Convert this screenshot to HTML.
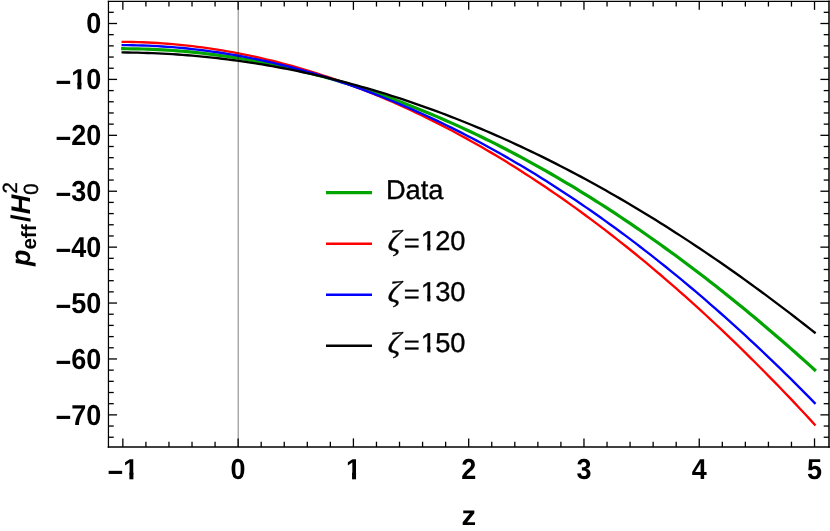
<!DOCTYPE html>
<html><head><meta charset="utf-8"><title>p_eff plot</title>
<style>html,body{margin:0;padding:0;background:#fff;}svg{display:block;}text{font-family:"Liberation Sans",sans-serif;text-rendering:geometricPrecision;}</style>
</head><body>
<svg width="830" height="531" viewBox="0 0 830 531" style="will-change:transform">
<rect x="0" y="0" width="830" height="531" fill="#ffffff"/>
<g fill="none" stroke-linecap="square" stroke-linejoin="round">
<path d="M122.70,48.71 L127.68,48.74 L132.66,48.80 L137.64,48.89 L142.61,49.02 L147.59,49.18 L152.57,49.38 L157.55,49.61 L162.53,49.87 L167.51,50.17 L172.48,50.51 L177.46,50.87 L182.44,51.27 L187.42,51.71 L192.40,52.18 L197.38,52.68 L202.35,53.22 L207.33,53.80 L212.31,54.40 L217.29,55.04 L222.27,55.72 L227.25,56.42 L232.23,57.16 L237.20,57.94 L242.18,58.75 L247.16,59.59 L252.14,60.47 L257.12,61.38 L262.10,62.32 L267.07,63.30 L272.05,64.31 L277.03,65.36 L282.01,66.44 L286.99,67.55 L291.97,68.70 L296.94,69.88 L301.92,71.09 L306.90,72.33 L311.88,73.61 L316.86,74.93 L321.84,76.27 L326.82,77.65 L331.79,79.07 L336.77,80.51 L341.75,81.99 L346.73,83.51 L351.71,85.05 L356.69,86.63 L361.66,88.24 L366.64,89.89 L371.62,91.57 L376.60,93.28 L381.58,95.02 L386.56,96.80 L391.53,98.61 L396.51,100.45 L401.49,102.33 L406.47,104.24 L411.45,106.18 L416.43,108.15 L421.41,110.16 L426.38,112.20 L431.36,114.27 L436.34,116.38 L441.32,118.52 L446.30,120.69 L451.28,122.89 L456.25,125.13 L461.23,127.40 L466.21,129.70 L471.19,132.03 L476.17,134.40 L481.15,136.80 L486.12,139.23 L491.10,141.69 L496.08,144.19 L501.06,146.71 L506.04,149.27 L511.02,151.87 L515.99,154.49 L520.97,157.15 L525.95,159.84 L530.93,162.56 L535.91,165.31 L540.89,168.10 L545.87,170.92 L550.84,173.76 L555.82,176.65 L560.80,179.56 L565.78,182.51 L570.76,185.48 L575.74,188.49 L580.71,191.53 L585.69,194.61 L590.67,197.71 L595.65,200.85 L600.63,204.02 L605.61,207.22 L610.58,210.45 L615.56,213.71 L620.54,217.01 L625.52,220.33 L630.50,223.69 L635.48,227.08 L640.46,230.50 L645.43,233.96 L650.41,237.44 L655.39,240.95 L660.37,244.50 L665.35,248.08 L670.33,251.69 L675.30,255.33 L680.28,259.00 L685.26,262.71 L690.24,266.44 L695.22,270.21 L700.20,274.00 L705.17,277.83 L710.15,281.69 L715.13,285.58 L720.11,289.50 L725.09,293.46 L730.07,297.44 L735.05,301.45 L740.02,305.50 L745.00,309.58 L749.98,313.68 L754.96,317.82 L759.94,321.99 L764.92,326.19 L769.89,330.42 L774.87,334.68 L779.85,338.97 L784.83,343.30 L789.81,347.65 L794.79,352.03 L799.76,356.45 L804.74,360.89 L809.72,365.37 L814.70,369.87" stroke="#00a500" stroke-width="3.2"/>
<path d="M122.70,41.84 L127.68,41.89 L132.66,41.98 L137.64,42.11 L142.61,42.28 L147.59,42.49 L152.57,42.74 L157.55,43.03 L162.53,43.36 L167.51,43.73 L172.48,44.15 L177.46,44.60 L182.44,45.09 L187.42,45.62 L192.40,46.19 L197.38,46.80 L202.35,47.46 L207.33,48.15 L212.31,48.88 L217.29,49.65 L222.27,50.46 L227.25,51.31 L232.23,52.20 L237.20,53.14 L242.18,54.11 L247.16,55.12 L252.14,56.16 L257.12,57.25 L262.10,58.38 L267.07,59.55 L272.05,60.76 L277.03,62.01 L282.01,63.29 L286.99,64.62 L291.97,65.98 L296.94,67.39 L301.92,68.83 L306.90,70.32 L311.88,71.84 L316.86,73.40 L321.84,75.00 L326.82,76.64 L331.79,78.32 L336.77,80.04 L341.75,81.80 L346.73,83.60 L351.71,85.43 L356.69,87.31 L361.66,89.22 L366.64,91.18 L371.62,93.17 L376.60,95.20 L381.58,97.27 L386.56,99.38 L391.53,101.53 L396.51,103.71 L401.49,105.94 L406.47,108.20 L411.45,110.51 L416.43,112.85 L421.41,115.23 L426.38,117.65 L431.36,120.11 L436.34,122.60 L441.32,125.14 L446.30,127.72 L451.28,130.33 L456.25,132.98 L461.23,135.67 L466.21,138.40 L471.19,141.17 L476.17,143.97 L481.15,146.82 L486.12,149.70 L491.10,152.62 L496.08,155.58 L501.06,158.58 L506.04,161.62 L511.02,164.69 L515.99,167.81 L520.97,170.96 L525.95,174.15 L530.93,177.38 L535.91,180.65 L540.89,183.95 L545.87,187.30 L550.84,190.68 L555.82,194.10 L560.80,197.56 L565.78,201.06 L570.76,204.59 L575.74,208.17 L580.71,211.78 L585.69,215.43 L590.67,219.12 L595.65,222.84 L600.63,226.61 L605.61,230.41 L610.58,234.25 L615.56,238.13 L620.54,242.05 L625.52,246.01 L630.50,250.00 L635.48,254.03 L640.46,258.10 L645.43,262.21 L650.41,266.36 L655.39,270.55 L660.37,274.77 L665.35,279.03 L670.33,283.33 L675.30,287.67 L680.28,292.04 L685.26,296.46 L690.24,300.91 L695.22,305.40 L700.20,309.92 L705.17,314.49 L710.15,319.09 L715.13,323.74 L720.11,328.42 L725.09,333.13 L730.07,337.89 L735.05,342.68 L740.02,347.52 L745.00,352.39 L749.98,357.30 L754.96,362.24 L759.94,367.23 L764.92,372.25 L769.89,377.31 L774.87,382.41 L779.85,387.55 L784.83,392.72 L789.81,397.93 L794.79,403.18 L799.76,408.47 L804.74,413.80 L809.72,419.16 L814.70,424.57" stroke="#ff0000" stroke-width="2.35"/>
<path d="M122.70,45.15 L127.68,45.18 L132.66,45.25 L137.64,45.35 L142.61,45.50 L147.59,45.68 L152.57,45.90 L157.55,46.16 L162.53,46.46 L167.51,46.80 L172.48,47.17 L177.46,47.59 L182.44,48.04 L187.42,48.53 L192.40,49.05 L197.38,49.62 L202.35,50.22 L207.33,50.86 L212.31,51.54 L217.29,52.26 L222.27,53.01 L227.25,53.81 L232.23,54.64 L237.20,55.50 L242.18,56.41 L247.16,57.35 L252.14,58.33 L257.12,59.35 L262.10,60.40 L267.07,61.49 L272.05,62.62 L277.03,63.78 L282.01,64.99 L286.99,66.23 L291.97,67.50 L296.94,68.82 L301.92,70.17 L306.90,71.55 L311.88,72.98 L316.86,74.44 L321.84,75.94 L326.82,77.47 L331.79,79.04 L336.77,80.65 L341.75,82.29 L346.73,83.97 L351.71,85.69 L356.69,87.44 L361.66,89.23 L366.64,91.06 L371.62,92.92 L376.60,94.82 L381.58,96.75 L386.56,98.72 L391.53,100.73 L396.51,102.77 L401.49,104.85 L406.47,106.97 L411.45,109.12 L416.43,111.31 L421.41,113.54 L426.38,115.80 L431.36,118.09 L436.34,120.43 L441.32,122.79 L446.30,125.20 L451.28,127.64 L456.25,130.12 L461.23,132.63 L466.21,135.18 L471.19,137.76 L476.17,140.38 L481.15,143.04 L486.12,145.73 L491.10,148.46 L496.08,151.22 L501.06,154.02 L506.04,156.86 L511.02,159.73 L515.99,162.64 L520.97,165.58 L525.95,168.56 L530.93,171.57 L535.91,174.62 L540.89,177.71 L545.87,180.83 L550.84,183.99 L555.82,187.18 L560.80,190.41 L565.78,193.68 L570.76,196.98 L575.74,200.32 L580.71,203.69 L585.69,207.10 L590.67,210.55 L595.65,214.03 L600.63,217.54 L605.61,221.10 L610.58,224.68 L615.56,228.31 L620.54,231.97 L625.52,235.66 L630.50,239.40 L635.48,243.16 L640.46,246.97 L645.43,250.81 L650.41,254.69 L655.39,258.60 L660.37,262.55 L665.35,266.53 L670.33,270.55 L675.30,274.61 L680.28,278.70 L685.26,282.83 L690.24,287.00 L695.22,291.20 L700.20,295.43 L705.17,299.71 L710.15,304.02 L715.13,308.37 L720.11,312.75 L725.09,317.17 L730.07,321.63 L735.05,326.12 L740.02,330.65 L745.00,335.21 L749.98,339.81 L754.96,344.45 L759.94,349.13 L764.92,353.84 L769.89,358.59 L774.87,363.38 L779.85,368.20 L784.83,373.06 L789.81,377.95 L794.79,382.89 L799.76,387.86 L804.74,392.87 L809.72,397.91 L814.70,402.99" stroke="#0000ff" stroke-width="2.35"/>
<path d="M122.70,52.46 L127.68,52.51 L132.66,52.58 L137.64,52.68 L142.61,52.80 L147.59,52.96 L152.57,53.14 L157.55,53.36 L162.53,53.60 L167.51,53.87 L172.48,54.17 L177.46,54.49 L182.44,54.85 L187.42,55.23 L192.40,55.64 L197.38,56.08 L202.35,56.55 L207.33,57.05 L212.31,57.58 L217.29,58.13 L222.27,58.72 L227.25,59.33 L232.23,59.97 L237.20,60.64 L242.18,61.34 L247.16,62.07 L252.14,62.83 L257.12,63.61 L262.10,64.43 L267.07,65.27 L272.05,66.14 L277.03,67.05 L282.01,67.98 L286.99,68.94 L291.97,69.92 L296.94,70.94 L301.92,71.99 L306.90,73.06 L311.88,74.16 L316.86,75.30 L321.84,76.46 L326.82,77.65 L331.79,78.87 L336.77,80.12 L341.75,81.39 L346.73,82.70 L351.71,84.04 L356.69,85.40 L361.66,86.79 L366.64,88.22 L371.62,89.67 L376.60,91.15 L381.58,92.66 L386.56,94.19 L391.53,95.76 L396.51,97.36 L401.49,98.98 L406.47,100.63 L411.45,102.32 L416.43,104.03 L421.41,105.77 L426.38,107.54 L431.36,109.34 L436.34,111.16 L441.32,113.02 L446.30,114.90 L451.28,116.82 L456.25,118.76 L461.23,120.73 L466.21,122.73 L471.19,124.76 L476.17,126.82 L481.15,128.91 L486.12,131.02 L491.10,133.16 L496.08,135.34 L501.06,137.54 L506.04,139.77 L511.02,142.03 L515.99,144.31 L520.97,146.63 L525.95,148.97 L530.93,151.34 L535.91,153.75 L540.89,156.17 L545.87,158.63 L550.84,161.12 L555.82,163.63 L560.80,166.18 L565.78,168.75 L570.76,171.35 L575.74,173.98 L580.71,176.63 L585.69,179.32 L590.67,182.03 L595.65,184.77 L600.63,187.54 L605.61,190.34 L610.58,193.16 L615.56,196.01 L620.54,198.89 L625.52,201.80 L630.50,204.74 L635.48,207.70 L640.46,210.70 L645.43,213.72 L650.41,216.76 L655.39,219.84 L660.37,222.94 L665.35,226.07 L670.33,229.23 L675.30,232.42 L680.28,235.63 L685.26,238.87 L690.24,242.14 L695.22,245.43 L700.20,248.75 L705.17,252.10 L710.15,255.48 L715.13,258.88 L720.11,262.31 L725.09,265.77 L730.07,269.26 L735.05,272.77 L740.02,276.31 L745.00,279.87 L749.98,283.46 L754.96,287.08 L759.94,290.73 L764.92,294.40 L769.89,298.10 L774.87,301.82 L779.85,305.57 L784.83,309.35 L789.81,313.15 L794.79,316.98 L799.76,320.84 L804.74,324.72 L809.72,328.63 L814.70,332.56" stroke="#000000" stroke-width="2.35"/>
</g>
<line x1="238.2" y1="1.25" x2="238.2" y2="447.0" stroke="#000" stroke-opacity="0.5" stroke-width="1"/>
<g stroke="#000" stroke-width="1.3">
<line x1="122.85" y1="447.0" x2="122.85" y2="438.40"/>
<line x1="122.85" y1="1.25" x2="122.85" y2="9.85"/>
<line x1="145.91" y1="447.0" x2="145.91" y2="441.70"/>
<line x1="145.91" y1="1.25" x2="145.91" y2="6.55"/>
<line x1="168.96" y1="447.0" x2="168.96" y2="441.70"/>
<line x1="168.96" y1="1.25" x2="168.96" y2="6.55"/>
<line x1="192.02" y1="447.0" x2="192.02" y2="441.70"/>
<line x1="192.02" y1="1.25" x2="192.02" y2="6.55"/>
<line x1="215.07" y1="447.0" x2="215.07" y2="441.70"/>
<line x1="215.07" y1="1.25" x2="215.07" y2="6.55"/>
<line x1="238.13" y1="447.0" x2="238.13" y2="438.40"/>
<line x1="238.13" y1="1.25" x2="238.13" y2="9.85"/>
<line x1="261.19" y1="447.0" x2="261.19" y2="441.70"/>
<line x1="261.19" y1="1.25" x2="261.19" y2="6.55"/>
<line x1="284.24" y1="447.0" x2="284.24" y2="441.70"/>
<line x1="284.24" y1="1.25" x2="284.24" y2="6.55"/>
<line x1="307.30" y1="447.0" x2="307.30" y2="441.70"/>
<line x1="307.30" y1="1.25" x2="307.30" y2="6.55"/>
<line x1="330.35" y1="447.0" x2="330.35" y2="441.70"/>
<line x1="330.35" y1="1.25" x2="330.35" y2="6.55"/>
<line x1="353.41" y1="447.0" x2="353.41" y2="438.40"/>
<line x1="353.41" y1="1.25" x2="353.41" y2="9.85"/>
<line x1="376.47" y1="447.0" x2="376.47" y2="441.70"/>
<line x1="376.47" y1="1.25" x2="376.47" y2="6.55"/>
<line x1="399.52" y1="447.0" x2="399.52" y2="441.70"/>
<line x1="399.52" y1="1.25" x2="399.52" y2="6.55"/>
<line x1="422.58" y1="447.0" x2="422.58" y2="441.70"/>
<line x1="422.58" y1="1.25" x2="422.58" y2="6.55"/>
<line x1="445.63" y1="447.0" x2="445.63" y2="441.70"/>
<line x1="445.63" y1="1.25" x2="445.63" y2="6.55"/>
<line x1="468.69" y1="447.0" x2="468.69" y2="438.40"/>
<line x1="468.69" y1="1.25" x2="468.69" y2="9.85"/>
<line x1="491.75" y1="447.0" x2="491.75" y2="441.70"/>
<line x1="491.75" y1="1.25" x2="491.75" y2="6.55"/>
<line x1="514.80" y1="447.0" x2="514.80" y2="441.70"/>
<line x1="514.80" y1="1.25" x2="514.80" y2="6.55"/>
<line x1="537.86" y1="447.0" x2="537.86" y2="441.70"/>
<line x1="537.86" y1="1.25" x2="537.86" y2="6.55"/>
<line x1="560.91" y1="447.0" x2="560.91" y2="441.70"/>
<line x1="560.91" y1="1.25" x2="560.91" y2="6.55"/>
<line x1="583.97" y1="447.0" x2="583.97" y2="438.40"/>
<line x1="583.97" y1="1.25" x2="583.97" y2="9.85"/>
<line x1="607.03" y1="447.0" x2="607.03" y2="441.70"/>
<line x1="607.03" y1="1.25" x2="607.03" y2="6.55"/>
<line x1="630.08" y1="447.0" x2="630.08" y2="441.70"/>
<line x1="630.08" y1="1.25" x2="630.08" y2="6.55"/>
<line x1="653.14" y1="447.0" x2="653.14" y2="441.70"/>
<line x1="653.14" y1="1.25" x2="653.14" y2="6.55"/>
<line x1="676.19" y1="447.0" x2="676.19" y2="441.70"/>
<line x1="676.19" y1="1.25" x2="676.19" y2="6.55"/>
<line x1="699.25" y1="447.0" x2="699.25" y2="438.40"/>
<line x1="699.25" y1="1.25" x2="699.25" y2="9.85"/>
<line x1="722.31" y1="447.0" x2="722.31" y2="441.70"/>
<line x1="722.31" y1="1.25" x2="722.31" y2="6.55"/>
<line x1="745.36" y1="447.0" x2="745.36" y2="441.70"/>
<line x1="745.36" y1="1.25" x2="745.36" y2="6.55"/>
<line x1="768.42" y1="447.0" x2="768.42" y2="441.70"/>
<line x1="768.42" y1="1.25" x2="768.42" y2="6.55"/>
<line x1="791.47" y1="447.0" x2="791.47" y2="441.70"/>
<line x1="791.47" y1="1.25" x2="791.47" y2="6.55"/>
<line x1="814.53" y1="447.0" x2="814.53" y2="438.40"/>
<line x1="814.53" y1="1.25" x2="814.53" y2="9.85"/>
<line x1="108.45" y1="437.23" x2="113.75" y2="437.23"/>
<line x1="829.0" y1="437.23" x2="823.70" y2="437.23"/>
<line x1="108.45" y1="426.05" x2="113.75" y2="426.05"/>
<line x1="829.0" y1="426.05" x2="823.70" y2="426.05"/>
<line x1="108.45" y1="414.87" x2="117.05" y2="414.87"/>
<line x1="829.0" y1="414.87" x2="820.40" y2="414.87"/>
<line x1="108.45" y1="403.69" x2="113.75" y2="403.69"/>
<line x1="829.0" y1="403.69" x2="823.70" y2="403.69"/>
<line x1="108.45" y1="392.51" x2="113.75" y2="392.51"/>
<line x1="829.0" y1="392.51" x2="823.70" y2="392.51"/>
<line x1="108.45" y1="381.32" x2="113.75" y2="381.32"/>
<line x1="829.0" y1="381.32" x2="823.70" y2="381.32"/>
<line x1="108.45" y1="370.14" x2="113.75" y2="370.14"/>
<line x1="829.0" y1="370.14" x2="823.70" y2="370.14"/>
<line x1="108.45" y1="358.96" x2="117.05" y2="358.96"/>
<line x1="829.0" y1="358.96" x2="820.40" y2="358.96"/>
<line x1="108.45" y1="347.78" x2="113.75" y2="347.78"/>
<line x1="829.0" y1="347.78" x2="823.70" y2="347.78"/>
<line x1="108.45" y1="336.60" x2="113.75" y2="336.60"/>
<line x1="829.0" y1="336.60" x2="823.70" y2="336.60"/>
<line x1="108.45" y1="325.41" x2="113.75" y2="325.41"/>
<line x1="829.0" y1="325.41" x2="823.70" y2="325.41"/>
<line x1="108.45" y1="314.23" x2="113.75" y2="314.23"/>
<line x1="829.0" y1="314.23" x2="823.70" y2="314.23"/>
<line x1="108.45" y1="303.05" x2="117.05" y2="303.05"/>
<line x1="829.0" y1="303.05" x2="820.40" y2="303.05"/>
<line x1="108.45" y1="291.87" x2="113.75" y2="291.87"/>
<line x1="829.0" y1="291.87" x2="823.70" y2="291.87"/>
<line x1="108.45" y1="280.69" x2="113.75" y2="280.69"/>
<line x1="829.0" y1="280.69" x2="823.70" y2="280.69"/>
<line x1="108.45" y1="269.50" x2="113.75" y2="269.50"/>
<line x1="829.0" y1="269.50" x2="823.70" y2="269.50"/>
<line x1="108.45" y1="258.32" x2="113.75" y2="258.32"/>
<line x1="829.0" y1="258.32" x2="823.70" y2="258.32"/>
<line x1="108.45" y1="247.14" x2="117.05" y2="247.14"/>
<line x1="829.0" y1="247.14" x2="820.40" y2="247.14"/>
<line x1="108.45" y1="235.96" x2="113.75" y2="235.96"/>
<line x1="829.0" y1="235.96" x2="823.70" y2="235.96"/>
<line x1="108.45" y1="224.78" x2="113.75" y2="224.78"/>
<line x1="829.0" y1="224.78" x2="823.70" y2="224.78"/>
<line x1="108.45" y1="213.59" x2="113.75" y2="213.59"/>
<line x1="829.0" y1="213.59" x2="823.70" y2="213.59"/>
<line x1="108.45" y1="202.41" x2="113.75" y2="202.41"/>
<line x1="829.0" y1="202.41" x2="823.70" y2="202.41"/>
<line x1="108.45" y1="191.23" x2="117.05" y2="191.23"/>
<line x1="829.0" y1="191.23" x2="820.40" y2="191.23"/>
<line x1="108.45" y1="180.05" x2="113.75" y2="180.05"/>
<line x1="829.0" y1="180.05" x2="823.70" y2="180.05"/>
<line x1="108.45" y1="168.87" x2="113.75" y2="168.87"/>
<line x1="829.0" y1="168.87" x2="823.70" y2="168.87"/>
<line x1="108.45" y1="157.68" x2="113.75" y2="157.68"/>
<line x1="829.0" y1="157.68" x2="823.70" y2="157.68"/>
<line x1="108.45" y1="146.50" x2="113.75" y2="146.50"/>
<line x1="829.0" y1="146.50" x2="823.70" y2="146.50"/>
<line x1="108.45" y1="135.32" x2="117.05" y2="135.32"/>
<line x1="829.0" y1="135.32" x2="820.40" y2="135.32"/>
<line x1="108.45" y1="124.14" x2="113.75" y2="124.14"/>
<line x1="829.0" y1="124.14" x2="823.70" y2="124.14"/>
<line x1="108.45" y1="112.96" x2="113.75" y2="112.96"/>
<line x1="829.0" y1="112.96" x2="823.70" y2="112.96"/>
<line x1="108.45" y1="101.77" x2="113.75" y2="101.77"/>
<line x1="829.0" y1="101.77" x2="823.70" y2="101.77"/>
<line x1="108.45" y1="90.59" x2="113.75" y2="90.59"/>
<line x1="829.0" y1="90.59" x2="823.70" y2="90.59"/>
<line x1="108.45" y1="79.41" x2="117.05" y2="79.41"/>
<line x1="829.0" y1="79.41" x2="820.40" y2="79.41"/>
<line x1="108.45" y1="68.23" x2="113.75" y2="68.23"/>
<line x1="829.0" y1="68.23" x2="823.70" y2="68.23"/>
<line x1="108.45" y1="57.05" x2="113.75" y2="57.05"/>
<line x1="829.0" y1="57.05" x2="823.70" y2="57.05"/>
<line x1="108.45" y1="45.86" x2="113.75" y2="45.86"/>
<line x1="829.0" y1="45.86" x2="823.70" y2="45.86"/>
<line x1="108.45" y1="34.68" x2="113.75" y2="34.68"/>
<line x1="829.0" y1="34.68" x2="823.70" y2="34.68"/>
<line x1="108.45" y1="23.50" x2="117.05" y2="23.50"/>
<line x1="829.0" y1="23.50" x2="820.40" y2="23.50"/>
<line x1="108.45" y1="12.32" x2="113.75" y2="12.32"/>
<line x1="829.0" y1="12.32" x2="823.70" y2="12.32"/>
</g>
<g stroke="#000" stroke-linecap="square">
<line x1="108.45" y1="1.25" x2="829.0" y2="1.25" stroke-width="1.25"/>
<line x1="108.45" y1="1.25" x2="108.45" y2="447.0" stroke-width="1.25"/>
<line x1="108.45" y1="447.0" x2="829.0" y2="447.0" stroke-width="1.5"/>
<line x1="829.0" y1="1.25" x2="829.0" y2="447.0" stroke-width="1.5"/>
</g>
<g font-size="27" font-weight="bold" fill="#000">
<text transform="translate(122.85,479.3) scale(1,1.07)" text-anchor="middle"><tspan dy="2.5">−</tspan><tspan dy="-2.5">1</tspan></text>
<text transform="translate(238.13,479.3) scale(1,1.07)" text-anchor="middle">0</text>
<text transform="translate(353.41,479.3) scale(1,1.07)" text-anchor="middle">1</text>
<text transform="translate(468.69,479.3) scale(1,1.07)" text-anchor="middle">2</text>
<text transform="translate(583.97,479.3) scale(1,1.07)" text-anchor="middle">3</text>
<text transform="translate(699.25,479.3) scale(1,1.07)" text-anchor="middle">4</text>
<text transform="translate(814.53,479.3) scale(1,1.07)" text-anchor="middle">5</text>
<text transform="translate(101.3,33.40) scale(1,1.07)" text-anchor="end">0</text>
<text transform="translate(101.3,89.31) scale(1,1.07)" text-anchor="end"><tspan dy="2.5">−</tspan><tspan dy="-2.5">10</tspan></text>
<text transform="translate(101.3,145.22) scale(1,1.07)" text-anchor="end"><tspan dy="2.5">−</tspan><tspan dy="-2.5">20</tspan></text>
<text transform="translate(101.3,201.13) scale(1,1.07)" text-anchor="end"><tspan dy="2.5">−</tspan><tspan dy="-2.5">30</tspan></text>
<text transform="translate(101.3,257.04) scale(1,1.07)" text-anchor="end"><tspan dy="2.5">−</tspan><tspan dy="-2.5">40</tspan></text>
<text transform="translate(101.3,312.95) scale(1,1.07)" text-anchor="end"><tspan dy="2.5">−</tspan><tspan dy="-2.5">50</tspan></text>
<text transform="translate(101.3,368.86) scale(1,1.07)" text-anchor="end"><tspan dy="2.5">−</tspan><tspan dy="-2.5">60</tspan></text>
<text transform="translate(101.3,424.77) scale(1,1.07)" text-anchor="end"><tspan dy="2.5">−</tspan><tspan dy="-2.5">70</tspan></text>
<text transform="translate(468.8,524.8) scale(1.08,1.02)" text-anchor="middle">z</text>
</g>
<g transform="translate(30.2,266.3) rotate(-90)" fill="#000">
<text x="0.3" y="0" font-size="27" font-weight="bold" font-style="italic">p</text>
<text x="16.7" y="5.8" font-size="20.6" font-weight="bold">eff</text>
<text x="44.3" y="0" font-size="27" font-weight="bold">/</text>
<text x="52.0" y="0" font-size="27" font-weight="bold" font-style="italic">H</text>
<text x="71.5" y="7.8" font-size="20.5" stroke="#000" stroke-width="0.35">0</text>
<text x="72.8" y="-13.2" font-size="20.5" stroke="#000" stroke-width="0.35">2</text>
</g>
<line x1="326.0" y1="192.65" x2="372.0" y2="192.65" stroke="#00a500" stroke-width="3.3"/>
<text x="385.9" y="199.45" font-size="27.3" fill="#000" stroke="#000" stroke-width="0.35">Data</text>
<line x1="326.0" y1="243.72" x2="372.0" y2="243.72" stroke="#ff0000" stroke-width="2.5"/>
<text transform="translate(387.2,251.15) skewX(-3) scale(1.08,1)" font-family="Liberation Serif" font-style="italic" font-size="30" fill="#000" stroke="#000" stroke-width="0.3" style="font-family:'Liberation Serif',serif">ζ</text>
<text x="403.8" y="250.40" font-size="27.3" fill="#000" stroke="#000" stroke-width="0.35"><tspan dy="1.9">=</tspan><tspan dx="1.0" dy="-1.9">1</tspan><tspan dx="-0.8">20</tspan></text>
<line x1="326.0" y1="294.79" x2="372.0" y2="294.79" stroke="#0000ff" stroke-width="2.5"/>
<text transform="translate(387.2,301.95) skewX(-3) scale(1.08,1)" font-family="Liberation Serif" font-style="italic" font-size="30" fill="#000" stroke="#000" stroke-width="0.3" style="font-family:'Liberation Serif',serif">ζ</text>
<text x="403.8" y="301.20" font-size="27.3" fill="#000" stroke="#000" stroke-width="0.35"><tspan dy="1.9">=</tspan><tspan dx="1.0" dy="-1.9">1</tspan><tspan dx="-0.8">30</tspan></text>
<line x1="326.0" y1="345.86" x2="372.0" y2="345.86" stroke="#000000" stroke-width="2.5"/>
<text transform="translate(387.2,352.95) skewX(-3) scale(1.08,1)" font-family="Liberation Serif" font-style="italic" font-size="30" fill="#000" stroke="#000" stroke-width="0.3" style="font-family:'Liberation Serif',serif">ζ</text>
<text x="403.8" y="352.20" font-size="27.3" fill="#000" stroke="#000" stroke-width="0.35"><tspan dy="1.9">=</tspan><tspan dx="1.0" dy="-1.9">1</tspan><tspan dx="-0.8">50</tspan></text>
<g fill="#ffffff"><rect x="123.48" y="474.80" width="15.46" height="7.60"/><rect x="346.14" y="474.80" width="15.46" height="7.60"/><rect x="71.50" y="84.81" width="15.46" height="7.60"/><rect x="421.37" y="246.89" width="14.70" height="6.44"/><rect x="421.37" y="297.69" width="14.70" height="6.44"/><rect x="421.37" y="348.69" width="14.70" height="6.44"/></g><g fill="#000000"><rect x="129.38" y="472.68" width="4.00" height="6.62"/><rect x="352.05" y="472.68" width="4.00" height="6.62"/><rect x="77.40" y="82.69" width="4.00" height="6.62"/><rect x="427.29" y="244.89" width="3.06" height="5.68"/><rect x="427.29" y="295.69" width="3.06" height="5.68"/><rect x="427.29" y="346.69" width="3.06" height="5.68"/></g>
</svg></body></html>
